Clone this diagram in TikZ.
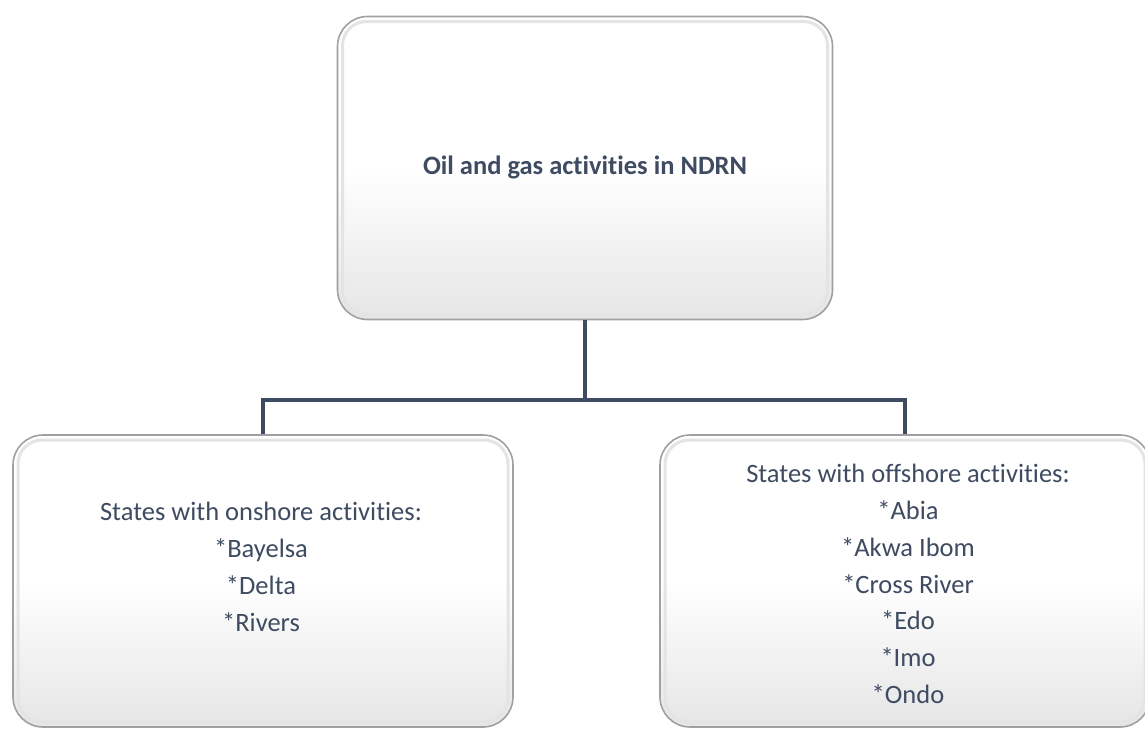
\documentclass[tikz,border=0pt]{standalone}
\usepackage{fontspec}
\setmainfont{Carlito}[Ligatures=NoCommon]
\begin{document}
\definecolor{ink}{HTML}{3E4B61}
\definecolor{rim}{HTML}{A0A0A0}
\definecolor{band}{HTML}{E4E4E4}
\tikzset{
  panel/.style={rectangle, rounded corners=30pt, draw=rim, line width=1.6pt,
    top color=white, bottom color=black!10, middle color=white,
    inner sep=0pt},
  bevel/.style={rectangle, rounded corners=24pt, draw=band, line width=3pt,
    inner sep=0pt},
  label/.style={text=ink, align=center, font=\fontsize{26.5}{36.8}\selectfont},
  conn/.style={draw=ink, line width=3.2pt}
}
\begin{tikzpicture}[x=1pt,y=-1pt]
  \useasboundingbox (0,0) rectangle (1145,731);
  % parent box
  \node[panel, minimum width=495pt, minimum height=303pt] (top) at (585,168) {};
  \node[bevel, minimum width=485pt, minimum height=293pt] (topin) at (585,168) {};
  \node[label, font=\fontsize{26.5}{36.8}\selectfont\bfseries] (toptext) at (585,167) {Oil and gas activities in NDRN};
  % onshore box
  \node[panel, minimum width=500pt, minimum height=292pt] (left) at (263,581) {};
  \node[bevel, minimum width=490pt, minimum height=282pt] (leftin) at (263,581) {};
  \node[label] (lefttext) at (261,567) {States with onshore activities:\\*Bayelsa\\*Delta\\*Rivers};
  % offshore box
  \node[panel, minimum width=490pt, minimum height=292pt] (right) at (905,581) {};
  \node[bevel, minimum width=480pt, minimum height=282pt] (rightin) at (905,581) {};
  \node[label] (righttext) at (908,584) {States with offshore activities:\\*Abia\\*Akwa Ibom\\*Cross River\\*Edo\\*Imo\\*Ondo};
  % connectors
  \coordinate (j) at (585,400);
  \draw[conn] (top.south) -- (j);
  \draw[conn] (j) -| (left.north);
  \draw[conn] (j) -| (right.north);
\end{tikzpicture}
\end{document}
